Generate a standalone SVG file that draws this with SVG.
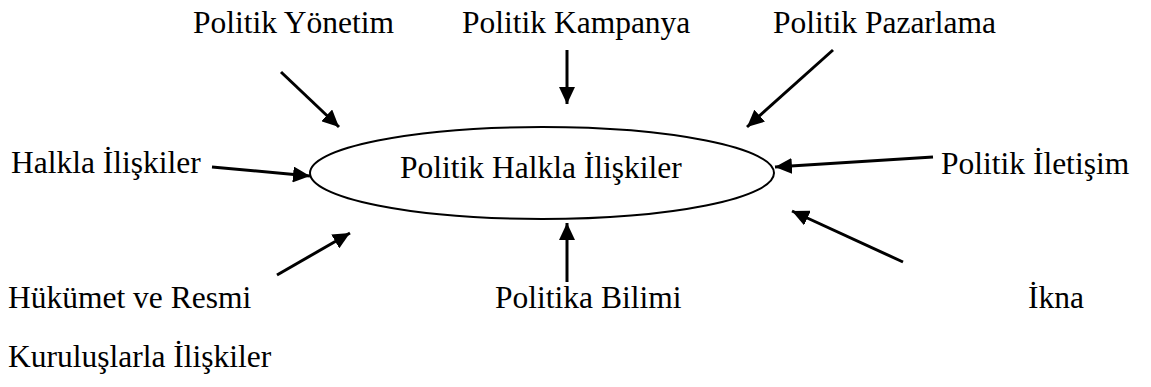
<svg xmlns="http://www.w3.org/2000/svg" width="1151" height="387" viewBox="0 0 1151 387">
<style>
text{font-family:"Liberation Serif","Times New Roman",serif;font-size:31.5px;fill:#000}
.c{stroke:#000;stroke-width:3;fill:none;marker-end:url(#ah)}
</style>
<defs>
<marker id="ah" markerUnits="userSpaceOnUse" markerWidth="20" markerHeight="16" refX="17" refY="8" orient="auto">
<path d="M0,0 L17,8 L0,16 Z" fill="#000"/>
</marker>
</defs>
<rect width="1151" height="387" fill="#fff"/>
<g id="center">
<ellipse cx="542" cy="173" rx="232" ry="46" fill="none" stroke="#000" stroke-width="2"/>
<text x="400" y="178">Politik Halkla İlişkiler</text>
</g>
<g id="n1"><text x="193" y="33">Politik Yönetim</text></g>
<g id="n2"><text x="462" y="33">Politik Kampanya</text></g>
<g id="n3"><text x="773" y="33">Politik Pazarlama</text></g>
<g id="n4"><text x="11" y="173">Halkla İlişkiler</text></g>
<g id="n5"><text x="941" y="174">Politik İletişim</text></g>
<g id="n6"><text x="8" y="308">Hükümet ve Resmi</text><text x="8" y="367">Kuruluşlarla İlişkiler</text></g>
<g id="n7"><text x="495" y="308">Politika Bilimi</text></g>
<g id="n8"><text x="1028" y="308">İkna</text></g>
<g id="connectors">
<line class="c" x1="281" y1="72" x2="339" y2="127"/>
<line class="c" x1="567" y1="50" x2="567" y2="104"/>
<line class="c" x1="833" y1="50" x2="747" y2="127"/>
<line class="c" x1="212" y1="167" x2="310" y2="176"/>
<line class="c" x1="933" y1="157" x2="775" y2="167"/>
<line class="c" x1="277" y1="275" x2="350" y2="233"/>
<line class="c" x1="567" y1="282" x2="567" y2="223"/>
<line class="c" x1="903" y1="262" x2="792" y2="211"/>
</g>
</svg>
